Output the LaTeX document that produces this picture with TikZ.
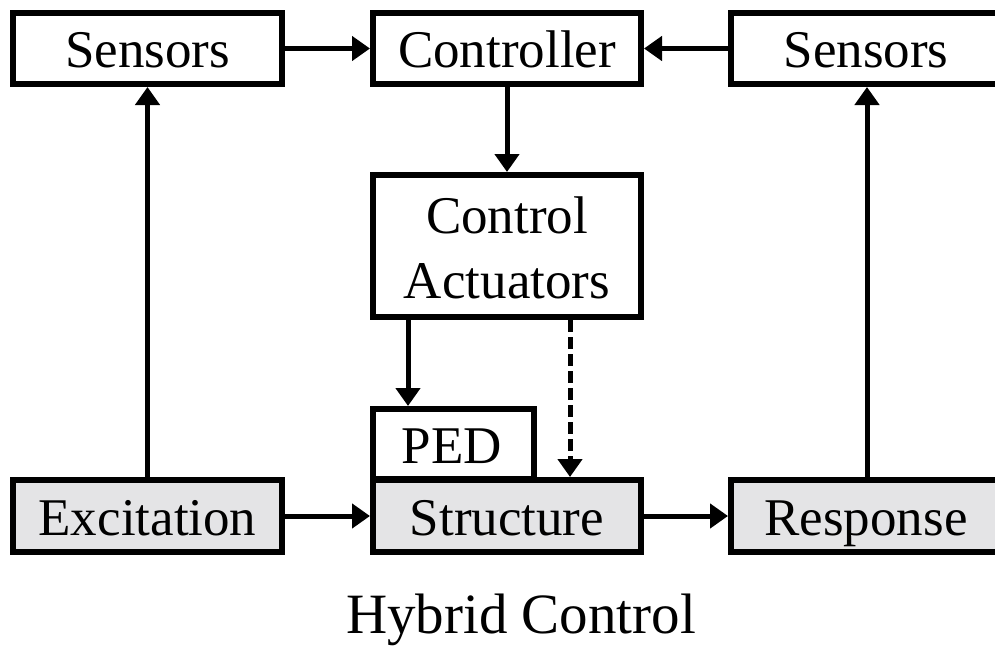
\documentclass[tikz,border=0pt]{standalone}
\usepackage{fontspec}
\setmainfont{Liberation Serif}
\usetikzlibrary{arrows.meta}
\definecolor{boxgray}{RGB}{228,228,230}
\begin{document}
\begin{tikzpicture}[x=1pt,y=-1pt,
  blk/.style={draw=black, line width=6pt, rectangle, inner sep=0pt, fill=white,
    font=\fontsize{53}{65}\selectfont, text height=38pt, text depth=0pt},
  wide/.style={blk, minimum width=269pt, minimum height=71pt},
  grayblk/.style={wide, fill=boxgray, minimum height=72pt},
  lbl/.style={font=\fontsize{53}{65}\selectfont, anchor=base, inner sep=0pt},
  conn/.style={line width=5pt, -{Triangle[length=18pt,width=24pt]}},
  dconn/.style={conn, dash pattern=on 12pt off 5pt}]
\useasboundingbox (0,0) rectangle (995,653);
\clip (0,0) rectangle (995,653);
\fill[white] (0,0) rectangle (995,653);
% top row
\node[wide] (sensL) at (147.5,48.5) {Sensors};
\node[wide, minimum width=268pt] (ctrl) at (507,48.5) {Controller};
\node[wide, minimum width=270pt] (sensR) at (866,48.5) {Sensors};
% actuators
\node[blk, minimum width=268pt, minimum height=142pt] (act) at (507,246) {};
\node[lbl] (actA) at (507,233) {Control};
\node[lbl] (actB) at (507,298) {Actuators};
% PED
\node[blk, minimum width=161pt, minimum height=70pt] (ped) at (453.5,444) {};
\node[lbl] (pedt) at (452,463) {PED};
% bottom row
\node[grayblk] (exc) at (147.5,516) {Excitation};
\node[grayblk, minimum width=268pt] (str) at (507,516) {Structure};
\node[grayblk, minimum width=270pt] (resp) at (866,516) {Response};
% connectors
\draw[conn] (sensL) -- (ctrl);
\draw[conn] (sensR) -- (ctrl);
\draw[conn] (ctrl) -- (act);
\draw[conn] (exc) -- (str);
\draw[conn] (str) -- (resp);
\draw[conn] (exc.north) -- (sensL.south);
\draw[conn] (resp.north -| 867,0) -- (sensR.south -| 867,0);
\draw[conn] (act.south -| 408,0) -- (ped.north -| 408,0);
\draw[dconn] (act.south -| 570,0) -- (str.north -| 570,0);
% title
\node[font=\fontsize{57}{68}\selectfont, anchor=base, inner sep=0pt] (title) at (521,633) {Hybrid Control};
\end{tikzpicture}
\end{document}
